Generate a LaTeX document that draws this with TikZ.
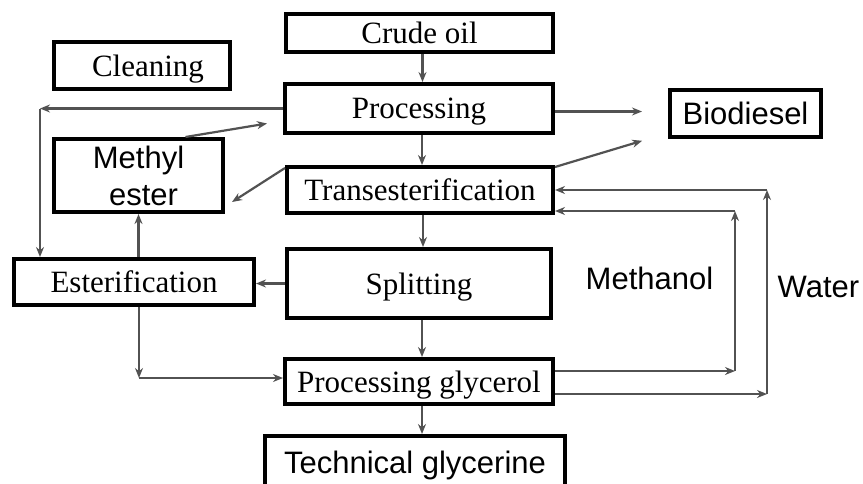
\documentclass[tikz,border=0pt]{standalone}
\usepackage{fontspec}
\setmainfont{Liberation Serif}
\setsansfont{Liberation Sans}
\usetikzlibrary{arrows.meta}

\begin{document}
\begin{tikzpicture}[x=1pt, y=-1pt,
  stage/.style={draw, line width=4pt, inner sep=0pt, text depth=0pt, font=\rmfamily\fontsize{31}{37}\selectfont},
  product/.style={stage, font=\sffamily\fontsize{31}{37}\selectfont},
  tag/.style={font=\sffamily\fontsize{31}{37}\selectfont},
  flow/.style={-{Stealth[length=10pt,width=8pt]}, line width=2.2pt, black!68}]

  \clip (0,0) rectangle (863,483);

  % ── Main column ────────────────────────────────────────────────────
  \node[stage, minimum width=267, minimum height=38] (crude) at (419.5,33) {Crude oil};
  \node[stage, minimum width=268, minimum height=49] (processing) at (419,108.5) {Processing};
  \node[stage, minimum width=266, minimum height=46] (trans) at (420,190) {Transesterification};
  \node[stage, minimum width=264, minimum height=69] (splitting) at (419,283.5) {Splitting};
  \node[stage, minimum width=268, minimum height=45] (glycerol) at (419,381.5) {Processing glycerol};
  \node[product, minimum width=300, minimum height=52] (technical) at (415,462) {Technical glycerine};

  % ── Left column ────────────────────────────────────────────────────
  \node[stage, minimum width=176, minimum height=47] (cleaning) at (142,65.5) {\hspace*{12pt}Cleaning};
  \node[product, align=center, minimum width=169, minimum height=73] (methyl) at (138.5,175.5) {Methyl\\\hspace*{10pt}ester};
  \node[stage, minimum width=240, minimum height=46] (ester) at (134,282) {Esterification};

  % ── Right side ─────────────────────────────────────────────────────
  \node[product, minimum width=151, minimum height=47] (biodiesel) at (745.5,113.5) {Biodiesel};
  \node[tag, anchor=base] (methanol) at (649.5,289) {Methanol};
  \node[tag, anchor=base] (water) at (818.5,297) {Water};

  % main flow down the column
  \foreach \a/\b in {crude/processing, processing/trans, trans/splitting,
                     splitting/glycerol, glycerol/technical} {
    \draw[flow] ([xshift=3]\a.south) -- ([xshift=3]\a.south |- \b.north);
  }

  % processing back to esterification (left loop)
  \coordinate (leftTop) at (processing.west -| 40,0);
  \draw[flow] (processing.west) -- (leftTop);
  \draw[flow] (leftTop) -- (leftTop |- ester.north);

  % methyl ester links
  \draw[flow] ([xshift=47]methyl.north) -- ([xshift=-16,yshift=-15]processing.west);
  \draw[flow] ([yshift=-3]trans.north west) -- ([xshift=7,yshift=12]methyl.south east);
  \draw[flow] (ester.north -| methyl.south) -- (methyl.south);

  % esterification down to glycerol
  \coordinate (lowCorner) at (139,378);
  \draw[flow] (ester.south -| lowCorner) -- (lowCorner);
  \draw[flow] (lowCorner) -- (lowCorner -| glycerol.west);
  \draw[flow] (splitting.west) -- (splitting.west -| ester.east);

  % biodiesel outputs
  \draw[flow, shorten >=26] ([yshift=-3]processing.east) -- ([yshift=-3]processing.east -| biodiesel.west);
  \draw[flow, shorten >=27] ([yshift=-2]trans.north east) -- ([yshift=6]biodiesel.south west);

  % methanol and water returns
  \coordinate (methBot) at (735,371);
  \coordinate (methTop) at (735,211);
  \coordinate (watBot) at (767,394);
  \coordinate (watTop) at (767,190);
  \draw[flow] (methBot -| glycerol.east) -- (methBot);
  \draw[flow] (methBot) -- (methTop);
  \draw[flow] (methTop) -- (methTop -| trans.east);
  \draw[flow] (watBot -| glycerol.east) -- (watBot);
  \draw[flow] (watBot) -- (watTop);
  \draw[flow] (watTop) -- (watTop -| trans.east);

\end{tikzpicture}
\end{document}
